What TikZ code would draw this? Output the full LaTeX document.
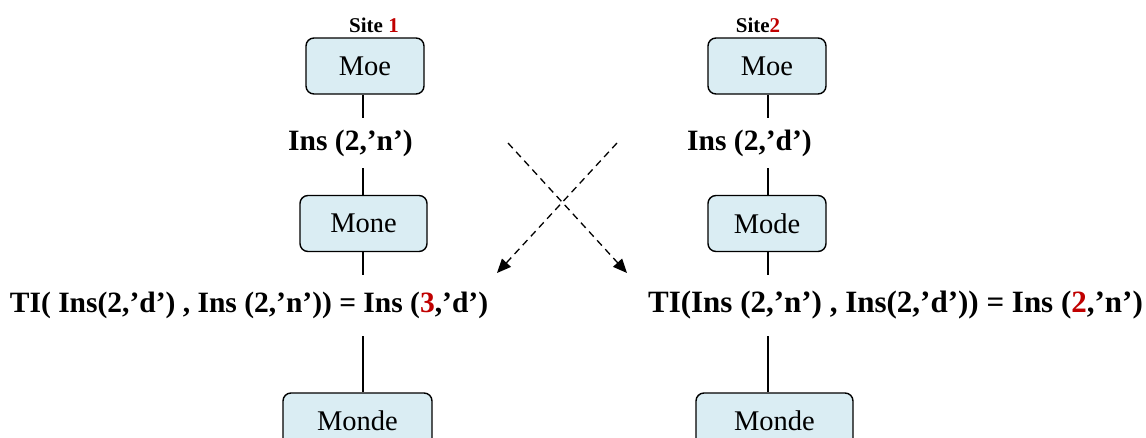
\documentclass[tikz,border=0pt]{standalone}
\usepackage{fontspec}
\setmainfont{Liberation Serif}
\usetikzlibrary{arrows.meta}
\definecolor{boxfill}{HTML}{DAEDF3}
\definecolor{darkred}{HTML}{C00000}
\tikzset{
  state/.style={draw, line width=1.4pt, rounded corners=8pt, fill=boxfill, minimum height=56pt, font=\fontsize{28.5}{32}\selectfont},
  oplabel/.style={font=\fontsize{29.5}{34}\selectfont\bfseries, inner sep=0pt},
  sitelabel/.style={font=\fontsize{21}{24}\selectfont\bfseries, inner sep=0pt},
  conn/.style={line width=1.1pt},
  cross/.style={line width=1.3pt, dash pattern=on 7pt off 5pt, -{Triangle[length=14pt,width=12pt]}}
}
\begin{document}
\begin{tikzpicture}[x=1pt,y=-1pt]
\useasboundingbox (0,0) rectangle (1146,437);
% left column
\node[sitelabel] (s1) at (374,25) {Site \textcolor{darkred}{1}};
\node[state, minimum width=118pt] (moeA) at (365,66) {Moe};
\node[oplabel, minimum height=50pt] (insA) at (350.5,143) {Ins (2,’n’)};
\node[state, minimum width=127pt] (moneA) at (363.5,223.5) {Mone};
\node[oplabel, minimum height=61pt] (tiA) at (249,305.5) {TI( Ins(2,’d’) , Ins (2,’n’)) = Ins (\textcolor{darkred}{3},’d’)};
\node[state, minimum width=149pt] (mondeA) at (357.5,421) {Monde};
% right column
\node[sitelabel] (s2) at (758,25) {Site\textcolor{darkred}{2}};
\node[state, minimum width=118pt] (moeB) at (767,66) {Moe};
\node[oplabel, minimum height=50pt] (insB) at (749.5,143) {Ins (2,’d’)};
\node[state, minimum width=118pt] (modeB) at (767,223.5) {Mode};
\node[oplabel, minimum height=61pt, font=\fontsize{31}{35}\selectfont\bfseries] (tiB) at (895.5,305.5) {TI(Ins (2,’n’) , Ins(2,’d’)) = Ins (\textcolor{darkred}{2},’n’)};
\node[state, minimum width=157pt] (mondeB) at (774.5,421) {Monde};
% connectors left
\draw[conn] (moeA.south -| 363,0) -- (363,0 |- insA.north);
\draw[conn] (363,0 |- insA.south) -- (moneA.north -| 363,0);
\draw[conn] (moneA.south -| 363,0) -- (363,0 |- tiA.north);
\draw[conn] (363,0 |- tiA.south) -- (mondeA.north -| 363,0);
% connectors right
\draw[conn] (moeB.south -| 768,0) -- (768,0 |- insB.north);
\draw[conn] (768,0 |- insB.south) -- (modeB.north -| 768,0);
\draw[conn] (modeB.south -| 768,0) -- (768,0 |- tiB.north);
\draw[conn] (768,0 |- tiB.south) -- (mondeB.north -| 768,0);
% crossing arrows
\coordinate (c1s) at (508,143);
\coordinate (c1e) at (627,273);
\coordinate (c2s) at (617,143);
\coordinate (c2e) at (497,273);
\draw[cross] (c1s) -- (c1e);
\draw[cross] (c2s) -- (c2e);
\end{tikzpicture}
\end{document}
